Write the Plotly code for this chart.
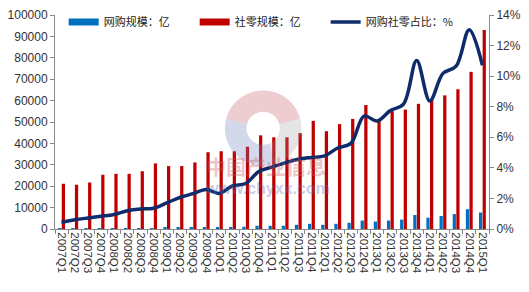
import plotly.graph_objects as go
import numpy as np

quarters = ["2007Q1","2007Q2","2007Q3","2007Q4","2008Q1","2008Q2","2008Q3","2008Q4",
            "2009Q1","2009Q2","2009Q3","2009Q4","2010Q1","2010Q2","2010Q3","2010Q4",
            "2011Q1","2011Q2","2011Q3","2011Q4","2012Q1","2012Q2","2012Q3","2012Q4",
            "2013Q1","2013Q2","2013Q3","2013Q4","2014Q1","2014Q2","2014Q3","2014Q4","2015Q1"]

online_scale = [150, 160, 200, 240, 280, 320, 380, 420, 500, 620, 720,
                750, 780, 800, 1060, 1500, 1500, 1500, 1960, 2410, 1960, 2410,
                2900, 3940, 3480, 3940, 4390, 6520, 5290, 6060, 6970, 9230, 7690]

retail_scale = [21130, 20680, 21720, 25340, 25790, 25790, 27010, 30630, 29410, 29410, 31090,
                35880, 36330, 36330, 38460, 43760, 42850, 42850, 44800, 50540, 45700, 49000,
                51450, 57920, 50540, 55070, 55800, 58500, 60300, 62440, 65300, 73440, 93000]

share_pct = [0.44, 0.60, 0.72, 0.83, 0.95, 1.19, 1.31, 1.36, 1.71, 2.06, 2.31,
             2.58, 2.33, 2.82, 2.98, 3.76, 4.05, 4.33, 4.56, 4.68, 4.78, 5.30,
             5.60, 7.39, 7.07, 7.75, 8.17, 11.03, 8.38, 10.18, 10.65, 13.04, 10.71]

left_ticks = list(range(0, 100001, 10000))
right_ticks = list(range(0, 15, 2))

BLUE = "#0070C0"
RED = "#C00000"
NAVY = "#0E2B6B"
LEG_FONT = dict(family="Noto Sans CJK SC, sans-serif", size=11, color="#222")

W, H = 529, 292
ML, MR, MT, MB = 52, 35, 8, 63
PW, PH = W - ML - MR, H - MT - MB

fig = go.Figure()

# legend proxies
fig.add_trace(go.Scatter(x=[quarters[0]], y=[None], mode="lines", line=dict(color=BLUE, width=7),
                         name="网购规模：亿", hoverinfo="skip"))
fig.add_trace(go.Scatter(x=[quarters[0]], y=[None], mode="lines", line=dict(color=RED, width=7),
                         name="社零规模：亿", hoverinfo="skip"))

fig.add_trace(go.Bar(x=quarters, y=online_scale, marker=dict(color=BLUE, line=dict(width=0)),
                     name="网购规模：亿", showlegend=False))
fig.add_trace(go.Bar(x=quarters, y=retail_scale, marker=dict(color=RED, line=dict(width=0)),
                     name="社零规模：亿", showlegend=False))
fig.add_trace(go.Scatter(x=quarters, y=share_pct, yaxis="y2", mode="lines",
                         line=dict(color=NAVY, width=3.5, shape="spline", smoothing=1.0),
                         name="网购社零占比：%"))

fig.update_layout(
    width=W, height=H,
    margin=dict(l=ML, r=MR, t=MT, b=MB),
    paper_bgcolor="white", plot_bgcolor="white",
    barmode="group", bargap=0.45, bargroupgap=0.1,
    font=dict(family="Arial, Liberation Sans, sans-serif", size=12, color="#333"),
    showlegend=True,
    legend=dict(orientation="h", x=0.02, y=1.035, xanchor="left", yanchor="top",
                font=LEG_FONT, bgcolor="rgba(0,0,0,0)", entrywidth=86, entrywidthmode="pixels",
                itemwidth=30, tracegroupgap=0),
    xaxis=dict(type="category", categoryorder="array", categoryarray=quarters,
               tickmode="array", tickvals=quarters, ticktext=quarters,
               tickangle=90, tickson="boundaries", ticks="outside", ticklen=4,
               tickcolor="#888", showline=True, linecolor="#888", linewidth=1,
               showgrid=False, tickfont=dict(size=11.5, color="#333")),
    yaxis=dict(range=[0, 100000], tickvals=left_ticks, ticktext=[str(v) for v in left_ticks],
               ticks="outside", ticklen=4, tickcolor="#888", showline=True, linecolor="#888",
               showgrid=False, zeroline=False, tickfont=dict(size=12, color="#333")),
    yaxis2=dict(range=[0, 14], tickvals=right_ticks, ticktext=[f"{v}%" for v in right_ticks],
                overlaying="y", side="right", ticks="outside", ticklen=4, tickcolor="#888",
                showline=True, linecolor="#888", showgrid=False, zeroline=False,
                tickfont=dict(size=12, color="#333")),
)

# watermark logo ring (decorative), built in pixel space then mapped to paper coords
def ring_path(cx, cy, r_out, r_in, a0, a1):
    t = np.radians(np.linspace(a0, a1, 40))
    xo = cx + r_out * np.cos(t); yo = cy - r_out * np.sin(t)
    xi = cx + r_in * np.cos(t[::-1]); yi = cy - r_in * np.sin(t[::-1])
    xs = np.concatenate([xo, xi]); ys = np.concatenate([yo, yi])
    px = (xs - ML) / PW; py = (MT + PH - ys) / PH
    return "M" + " L".join(f"{a:.4f},{b:.4f}" for a, b in zip(px, py)) + " Z"

for a0, a1, col in [(15, 165, "rgba(200,90,100,0.30)"),
                    (165, 290, "rgba(110,125,190,0.30)"),
                    (290, 375, "rgba(150,150,150,0.25)")]:
    fig.add_shape(type="path", path=ring_path(264, 125, 39, 17, a0, a1), xref="paper", yref="paper",
                  line=dict(width=0), fillcolor=col, layer="above")

fig.add_annotation(text="<b>中国产业信息</b>", x=0.487, y=0.215, xref="paper", yref="paper",
                   showarrow=False, font=dict(family="Noto Sans CJK SC", size=20, color="rgba(205,90,90,0.35)"))
fig.add_annotation(text="<b>www.chyxx.com</b>", x=0.49, y=0.14, xref="paper", yref="paper",
                   showarrow=False, font=dict(family="Arial", size=16, color="rgba(90,110,190,0.35)"))

fig.write_html("out.html")
